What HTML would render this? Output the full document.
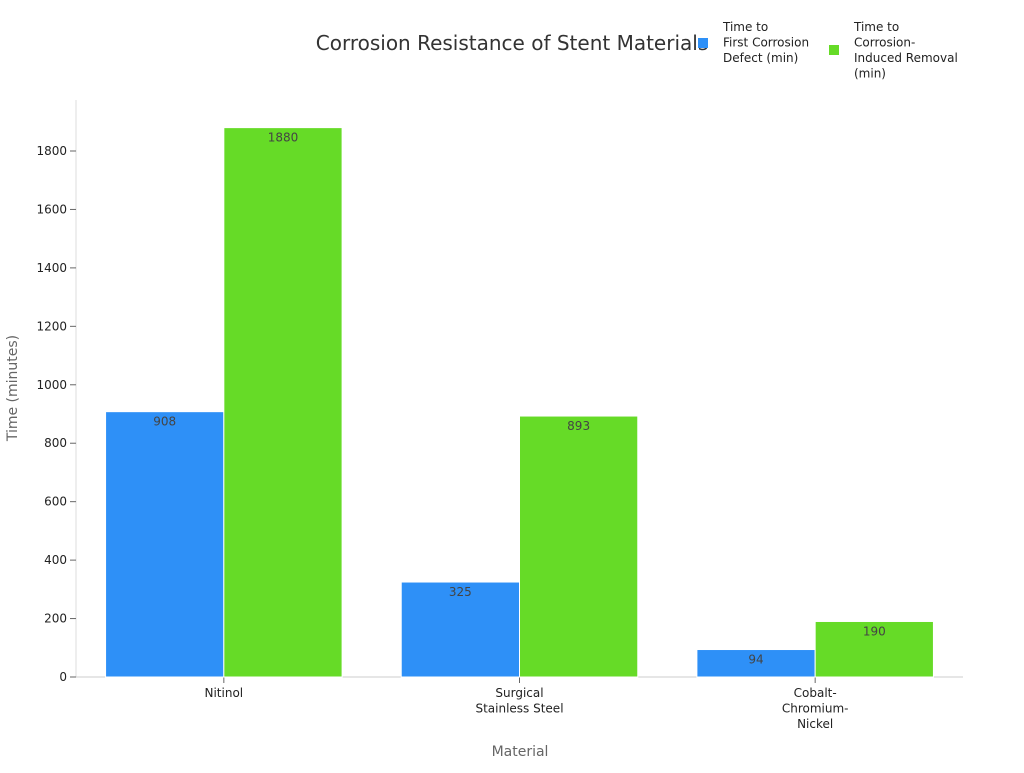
<!DOCTYPE html>
<html><head><meta charset="utf-8"><style>
body{margin:0;background:#fff;font-family:"Liberation Sans","DejaVu Sans",sans-serif}
</style></head><body>
<svg id="chart" width="1024" height="768" xmlns="http://www.w3.org/2000/svg" font-family="DejaVu Sans, Liberation Sans, sans-serif">
<text x="512" y="50" text-anchor="middle" font-size="20" fill="#333">Corrosion Resistance of Stent Materials</text>
<g font-size="12" fill="#222">
<rect x="698" y="38" width="10" height="10" fill="#2e90f7"/>
<text x="723" y="31"><tspan x="723">Time to</tspan><tspan x="723" dy="15.5">First Corrosion</tspan><tspan x="723" dy="15.5">Defect (min)</tspan></text>
<rect x="829" y="45" width="10" height="10" fill="#66db27"/>
<text x="854" y="31"><tspan x="854">Time to</tspan><tspan x="854" dy="15.5">Corrosion-</tspan><tspan x="854" dy="15.5">Induced Removal</tspan><tspan x="854" dy="15.5">(min)</tspan></text>
</g>
<g id="axes"></g>
<g id="bars"></g>
<text transform="translate(17,388) rotate(-90)" text-anchor="middle" font-size="14" fill="#666">Time (minutes)</text>
<text x="520" y="756" text-anchor="middle" font-size="14" fill="#666">Material</text>
</svg>
<script>
const categories=[["Nitinol"],["Surgical","Stainless Steel"],["Cobalt-","Chromium-","Nickel"]];
const firstDefect=[908,325,94];
const removal=[1880,893,190];
const yTicks=[0,200,400,600,800,1000,1200,1400,1600,1800];
const NS="http://www.w3.org/2000/svg";
const X0=76,X1=963,Y0=677,Y1800=151;
const y=v=>Y0-(Y0-Y1800)*v/1800;
const band=(X1-X0)/categories.length;
const xc=i=>X0+band*(i+0.5);
function mk(tag,attrs,parent){const e=document.createElementNS(NS,tag);for(const k in attrs)e.setAttribute(k,attrs[k]);parent.appendChild(e);return e;}
const axes=document.getElementById('axes'),bars=document.getElementById('bars');
let a=mk('line',{x1:X0,x2:X0,y1:100,y2:Y0,stroke:'#ddd'},axes);


a=mk('line',{x1:X0,x2:X1,y1:Y0,y2:Y0,stroke:'#ccc'},axes);


yTicks.forEach(t=>{
 const l=mk('line',{x1:70,x2:X0,y1:y(t),y2:y(t),stroke:'#666'},axes);
 
 
 const tx=mk('text',{x:67,y:y(t)+4,'text-anchor':'end','font-size':12,fill:'#222'},axes);
 tx.textContent=t;
 
 
});
const bw=band*0.8/2;
categories.forEach((c,i)=>{
 const tk=mk('line',{x1:xc(i),x2:xc(i),y1:Y0,y2:Y0+6,stroke:'#666'},axes);
 
 
 const t=mk('text',{x:xc(i),y:Y0+20,'text-anchor':'middle','font-size':12,fill:'#222'},axes);
 
 
 c.forEach((s,j)=>{const ts=mk('tspan',{x:xc(i),dy:j?15.5:0},t);ts.textContent=s;});
 [[firstDefect,'#2e90f7',-1],[removal,'#66db27',0]].forEach(([arr,col,off],k)=>{
  const bx=xc(i)+off*bw;
  const r=mk('rect',{x:bx,y:y(arr[i]),width:bw,height:Y0-y(arr[i]),fill:col,stroke:'#fff','stroke-width':1},bars);
  
  
  const v=mk('text',{x:bx+bw/2,y:y(arr[i])+14,'text-anchor':'middle','font-size':12,fill:'#444'},bars);
  v.textContent=arr[i];
  
  
 });
});
</script>
</body></html>
